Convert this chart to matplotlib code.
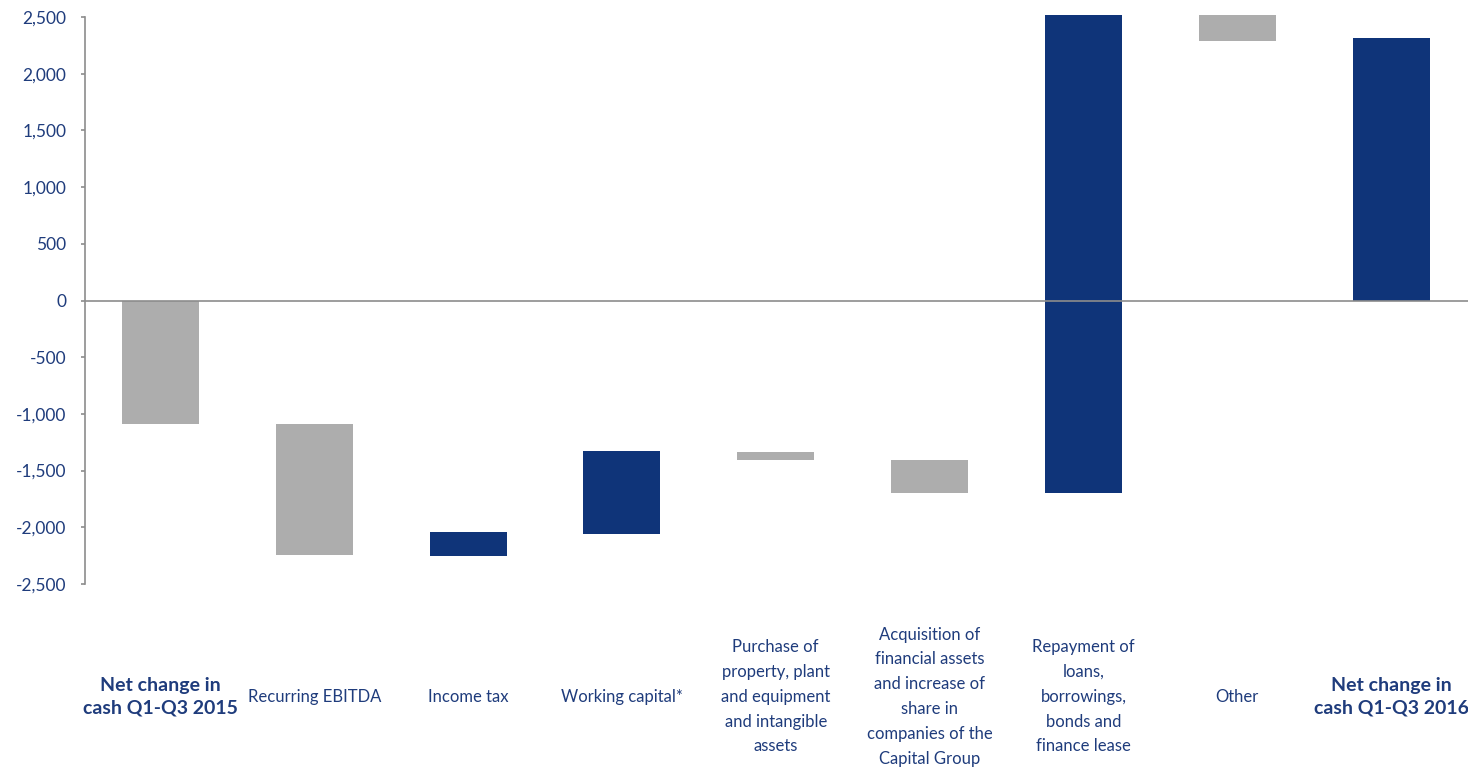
import numpy as np
import matplotlib.pyplot as plt

# cash flow bridge, PLN m
categories = ["Net change in\ncash Q1-Q3 2015", "Recurring EBITDA", "Income tax", "Working capital*",
              "Purchase of\nproperty, plant\nand equipment\nand intangible\nassets",
              "Acquisition of\nfinancial assets\nand increase of\nshare in\ncompanies of the\nCapital Group",
              "Repayment of\nloans,\nborrowings,\nbonds and\nfinance lease",
              "Other", "Net change in\ncash Q1-Q3 2016"]
bar_start = [0, -1090, -2040, -1325, -1335, -1405, -1700, 2600, 0]
bar_end = [-1090, -2240, -2255, -2060, -1405, -1700, 2600, 2285, 2315]
is_navy = [False, False, True, True, False, False, True, False, True]
is_total = [True, False, False, False, False, False, False, False, True]

NAVY = "#0F3479"
GREY = "#ADADAD"
TXT = "#1F3C7C"

plt.rcParams['font.family'] = ['Lato', 'DejaVu Sans']

fig = plt.figure(figsize=(14.68, 7.68), dpi=100)
ax = fig.add_axes([85/1468, 184/768, 1383/1468, 568.7/768])

x = np.arange(len(categories))
bottoms = np.minimum(bar_start, bar_end)
heights = np.abs(np.array(bar_end) - np.array(bar_start))
colors = [NAVY if n else GREY for n in is_navy]
ax.bar(x, heights, bottom=bottoms, width=0.5, color=colors, zorder=2)

ax.axhline(0, color="#8C8C8C", lw=1.2, zorder=3)

ax.set_xlim(-0.49, 8.5)
ax.set_ylim(-2500, 2515)
ax.set_yticks(np.arange(-2500, 2501, 500))
ax.set_yticklabels([f"{v:,}" for v in range(-2500, 2501, 500)])
ax.tick_params(axis='y', colors="#8C8C8C", labelcolor=TXT, labelsize=12.5, length=3, width=1.2, pad=10.5)
ax.set_xticks([])
for s in ["top", "right", "bottom"]:
    ax.spines[s].set_visible(False)
ax.spines["left"].set_color("#8C8C8C")
ax.spines["left"].set_linewidth(1.2)
ax.spines["left"].set_bounds(-2500, 2500)

# category labels centred below the plot; totals in bigger bold type
for xi, lab, bold in zip(x, categories, is_total):
    fs = 14 if bold else 12
    ax.text(xi, -3494, lab, ha='center', va='center', ma='center', fontsize=fs,
            color=TXT, fontweight='bold' if bold else 'normal', linespacing=20.2 / fs,
            clip_on=False)

fig.savefig("out.png", dpi=100)
